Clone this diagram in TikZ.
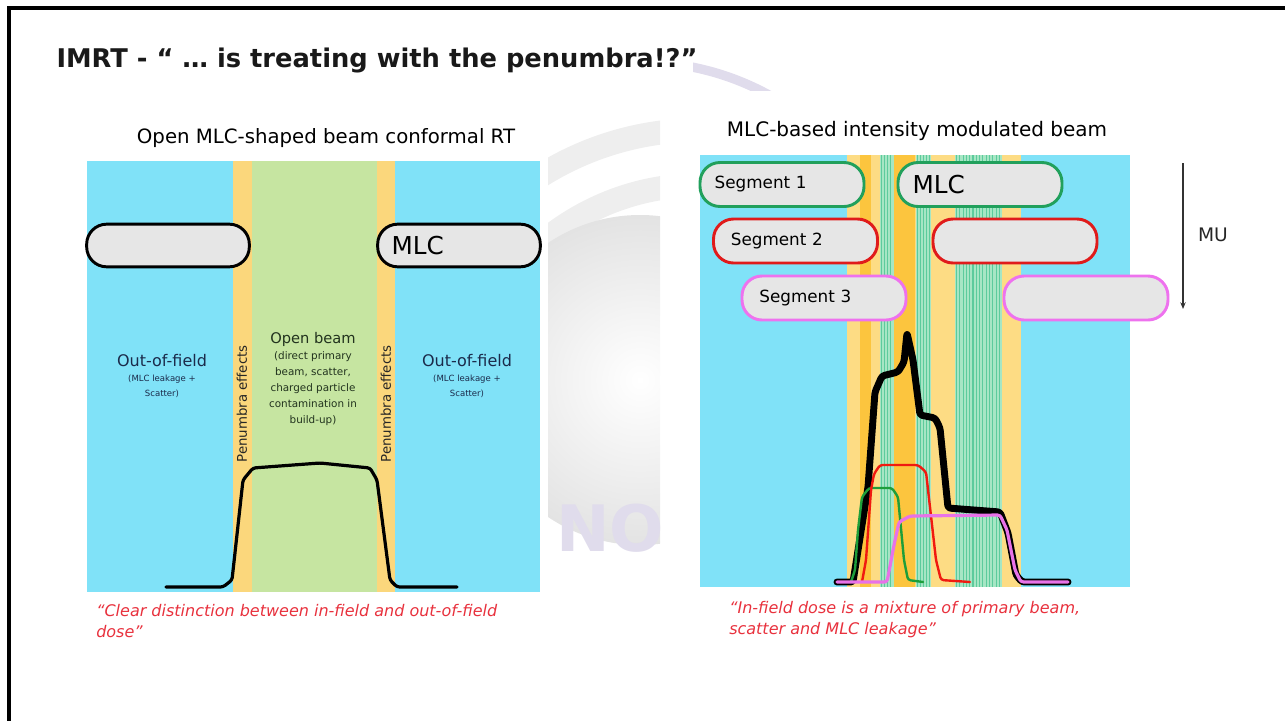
\documentclass[tikz,border=0pt]{standalone}
\usepackage{fontspec}
\setmainfont{DejaVu Sans}
\usetikzlibrary{arrows.meta}
\definecolor{cyanbg}{HTML}{80E2F8}
\definecolor{penyel}{HTML}{FBD77C}
\definecolor{opengreen}{HTML}{C6E5A1}
\definecolor{lightyel}{HTML}{FDDC84}
\definecolor{orangey}{HTML}{FCC53E}
\definecolor{stripebg}{HTML}{A6E6C4}
\definecolor{stripeln}{HTML}{5CCB9C}
\definecolor{leafgray}{HTML}{E6E6E6}
\definecolor{seggreen}{HTML}{21A05C}
\definecolor{segred}{HTML}{E01B1B}
\definecolor{segpink}{HTML}{EE72EE}
\definecolor{capred}{HTML}{E8313D}
\definecolor{navytext}{HTML}{1B2B4B}
\definecolor{beamtext}{HTML}{22331E}
\definecolor{wmgray}{HTML}{EEEEEE}
\definecolor{wmlav}{HTML}{E0DCEC}
\definecolor{curvegreen}{HTML}{1E9E3A}
\definecolor{curvered}{HTML}{F01A10}
\definecolor{curvepink}{HTML}{E872E8}
\newcommand{\myfs}[2]{\fontsize{#1}{#2}\selectfont}
\begin{document}
\begin{tikzpicture}[x=0.75pt,y=-0.75pt,
  leaf/.style={line width=2.2pt,fill=leafgray,rounded corners=15pt,minimum width=123pt,minimum height=33pt,inner xsep=10pt,text width=101pt,align=left,inner ysep=0pt},
  blackleaf/.style={leaf,draw=black,minimum width=122pt,minimum height=32pt},
  segtext/.style={font=\myfs{12.6}{14}},
  mlctext/.style={font=\myfs{18.5}{20}},
  smalltext/.style={align=center,inner sep=0pt},
  dose/.style={line join=round,line cap=round,rounded corners=2pt},
  caption/.style={align=left,anchor=north west,inner sep=0pt,text=capred,font=\myfs{12}{15.5}\itshape}
]
\useasboundingbox (0,0) rectangle (1285,721);
% watermark
\begin{scope}
  \clip (548,100) rectangle (660,600);
  \draw[wmgray,line width=18pt] (700,430) circle (300);
  \draw[wmgray,line width=18pt] (700,430) circle (245);
  \shade[inner color=white,outer color=black!11] (640,380) circle (165);
  \node[text=wmlav,font=\myfs{48}{48}\bfseries,inner sep=0pt] (wmno) at (610,528) {NO};
\end{scope}
\begin{scope}
  \clip (693,55) rectangle (775,90);
  \draw[wmlav,line width=7pt] (640,330) circle (268);
\end{scope}
% frame
\draw[line width=2.4pt] (9,721) -- (9,8) -- (1285,8);
% title
\node[text=black!90,font=\myfs{19.3}{21}\bfseries,inner sep=0pt] (title) at (377,61) {IMRT - “ … is treating with the penumbra!?”};
% ---------- left panel ----------
\node[font=\myfs{14.8}{16},inner sep=0pt] (lsub) at (326,138) {Open MLC-shaped beam conformal RT};
\fill[cyanbg] (87,161) rectangle (540,592);
\fill[penyel] (233,161) rectangle (395,592);
\fill[opengreen] (252,161) rectangle (377,592);
\node[blackleaf] (lleafL) at (168,245.5) {};
\node[blackleaf,mlctext] (lleafR) at (459,245.5) {MLC};
\node[smalltext,text=navytext] (oofL) at (162,376) {{\myfs{12}{13}Out-of-field}\\[-1pt]{\myfs{6.4}{8}(MLC leakage +}\\[-1pt]{\myfs{6.4}{8}Scatter)}};
\node[smalltext,text=navytext] (oofR) at (467,376) {{\myfs{12}{13}Out-of-field}\\[-1pt]{\myfs{6.4}{8}(MLC leakage +}\\[-1pt]{\myfs{6.4}{8}Scatter)}};
\node[smalltext,text=beamtext] (openbeam) at (313,379) {{\myfs{11}{12}Open beam}\\{\myfs{7.8}{11}(direct primary}\\{\myfs{7.8}{11}beam, scatter,}\\{\myfs{7.8}{11}charged particle}\\{\myfs{7.8}{11}contamination in}\\{\myfs{7.8}{11}build-up)}};
\node[rotate=90,font=\myfs{10}{11},text=black!85,inner sep=0pt] (penL) at (242,404) {Penumbra effects};
\node[rotate=90,font=\myfs{10}{11},text=black!85,inner sep=0pt] (penR) at (386,404) {Penumbra effects};
\draw[dose,line width=2.4pt] (166,587) -- (223,587) -- (232,580) -- (243,480) -- (253,468) -- (320,463) -- (370,468) -- (377,480) -- (390,580) -- (397,587) -- (457,587);
\node[caption] (lcap) at (96,604) {“Clear distinction between in-field and out-of-field\\dose”};
% ---------- right panel ----------
\node[font=\myfs{15}{16},inner sep=0pt] (rsub) at (917,131) {MLC-based intensity modulated beam};
\fill[cyanbg] (700,155) rectangle (1130,587);
\fill[lightyel] (847,155) rectangle (1021,587);
\fill[orangey] (860,155) rectangle (871,587);
\fill[orangey] (894,155) rectangle (915,587);
\fill[stripebg] (880,155) rectangle (894,587);
\fill[stripebg] (916,155) rectangle (931,587);
\fill[stripebg] (955,155) rectangle (1002,587);
\foreach \xx in {881.5,884.5,...,893} \draw[stripeln,line width=0.8pt] (\xx,155) -- (\xx,587);
\foreach \xx in {917.5,920.5,...,931} \draw[stripeln,line width=0.8pt] (\xx,155) -- (\xx,587);
\foreach \xx in {956.5,959.8,...,1002} \draw[stripeln,line width=0.8pt] (\xx,155) -- (\xx,587);
\node[leaf,draw=seggreen,segtext] (seg1) at (782,184.5) {Segment 1};
\node[leaf,draw=seggreen,mlctext] (mlc1) at (980,184.5) {MLC};
\node[leaf,draw=segred,segtext] (seg2) at (795.5,241) {\hspace*{2pt}Segment 2};
\node[leaf,draw=segred] (mlc2) at (1015,241) {};
\node[leaf,draw=segpink,segtext] (seg3) at (824,298) {\hspace*{2pt}Segment 3};
\node[leaf,draw=segpink] (mlc3) at (1086,298) {};
% MU arrow
\coordinate (mutop) at (1183,163);
\coordinate (mubot) at (1183,309);
\draw[black!80,line width=0.9pt,-{Stealth[length=5pt,width=4pt]}] (mutop) -- (mubot);
\node[font=\myfs{14}{15},text=black!85,inner sep=0pt] (mu) at (1213,235) {MU};
% dose curves
\draw[dose,line width=5.2pt] (837,582) -- (853,582) -- (868,487) -- (875,392) -- (882,376) -- (898,372) -- (904,362) -- (907,333) -- (913,360) -- (920,415) -- (935,418) -- (940,428) -- (948,508) -- (1000,512) -- (1008,533) -- (1016,575) -- (1022,582) -- (1068,582);
\draw[dose,curvegreen,line width=1.8pt] (851,582) -- (855,570) -- (858,530) -- (862,497) -- (869,488) -- (892,488) -- (898,497) -- (904,560) -- (908,580) -- (923,582);
\draw[dose,curvered,line width=1.8pt] (862,582) -- (866,560) -- (871,490) -- (874,474) -- (880,465) -- (918,465) -- (926,472) -- (936,560) -- (941,580) -- (970,582);
\draw[dose,curvepink,line width=2.4pt] (837,582) -- (887,582) -- (894,545) -- (899,522) -- (910,516) -- (1000,515) -- (1007,530) -- (1015,570) -- (1021,582) -- (1068,582);
\node[caption] (rcap) at (729,601) {“In-field dose is a mixture of primary beam,\\scatter and MLC leakage”};
\end{tikzpicture}
\end{document}
